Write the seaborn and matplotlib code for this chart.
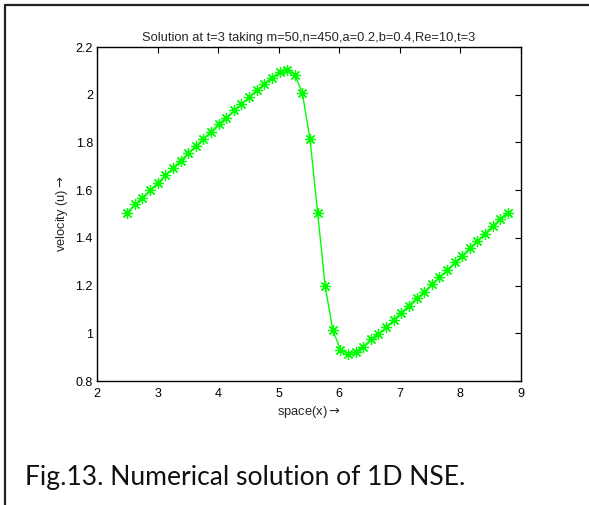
import matplotlib
matplotlib.use("Agg")
import matplotlib.pyplot as plt
import seaborn as sns
import pandas as pd
from matplotlib.lines import Line2D

# ---- data ----
space_x = [2.500, 2.626, 2.751, 2.877, 3.003, 3.128, 3.254, 3.380, 3.505, 3.631,
           3.757, 3.882, 4.008, 4.134, 4.259, 4.385, 4.511, 4.636, 4.762, 4.888,
           5.013, 5.139, 5.265, 5.390, 5.516, 5.642, 5.767, 5.893, 6.019, 6.144,
           6.270, 6.396, 6.521, 6.647, 6.773, 6.898, 7.024, 7.150, 7.275, 7.401,
           7.527, 7.652, 7.778, 7.904, 8.029, 8.155, 8.281, 8.406, 8.532, 8.658,
           8.783]
velocity_u = [1.506, 1.540, 1.569, 1.600, 1.630, 1.662, 1.693, 1.724, 1.754, 1.785,
              1.815, 1.844, 1.876, 1.904, 1.934, 1.960, 1.990, 2.018, 2.046, 2.071,
              2.095, 2.105, 2.084, 2.007, 1.815, 1.506, 1.198, 1.013, 0.932, 0.915,
              0.922, 0.944, 0.974, 0.996, 1.026, 1.055, 1.087, 1.116, 1.146, 1.172,
              1.206, 1.234, 1.264, 1.297, 1.324, 1.358, 1.386, 1.418, 1.450, 1.478,
              1.506]
x_ticks = [2, 3, 4, 5, 6, 7, 8, 9]
y_ticks = [0.8, 1.0, 1.2, 1.4, 1.6, 1.8, 2.0, 2.2]
y_tick_labels = ["0.8", "1", "1.2", "1.4", "1.6", "1.8", "2", "2.2"]
title_text = "Solution at t=3 taking m=50,n=450,a=0.2,b=0.4,Re=10,t=3"
x_label = r"space(x)$\rightarrow$"
y_label = r"velocity (u)$\rightarrow$"
caption = "Fig.13. Numerical solution of 1D NSE."

df = pd.DataFrame({"x": space_x, "u": velocity_u})

sns.set_theme(style="white")
plt.rcParams["font.family"] = ["Liberation Sans", "DejaVu Sans"]
plt.rcParams["mathtext.fontset"] = "dejavusans"
plt.rcParams["xtick.direction"] = "in"
plt.rcParams["ytick.direction"] = "in"

fig = plt.figure(figsize=(5.89, 5.05), dpi=100)
ax = fig.add_axes([97 / 589, 1 - 381 / 505, 424 / 589, 334 / 505])

sns.lineplot(data=df, x="x", y="u", ax=ax, color="#00ff00", linewidth=1.0,
             marker=(8, 2, 0), markersize=8, markeredgecolor="#00ff00",
             markerfacecolor="#00ff00", markeredgewidth=0.9, sort=False)

ax.set_xlim(2, 9)
ax.set_ylim(0.8, 2.2)
ax.set_xticks(x_ticks)
ax.set_xticklabels([str(t) for t in x_ticks])
ax.set_yticks(y_ticks)
ax.set_yticklabels(y_tick_labels)
ax.tick_params(axis="both", which="both", direction="in", length=4, width=0.8,
               top=True, right=True, labelsize=9, colors="black", pad=3)
ax.tick_params(axis="x", pad=5)
for s in ax.spines.values():
    s.set_visible(True)
    s.set_color("black")
    s.set_linewidth(1.0)

ax.set_title(title_text, fontsize=9.3, pad=4)
ax.set_xlabel(x_label, fontsize=9.3, labelpad=3)
ax.set_ylabel(y_label, fontsize=9.3, labelpad=4)

fig.text(25 / 589, 1 - 485 / 505, caption, fontsize=19.1, family=["Lato", "DejaVu Sans"],
         ha="left", va="baseline", color="#111111")

# outer frame (top and left edges visible)
fig.add_artist(Line2D([5 / 589, 1.0], [1 - 5 / 505, 1 - 5 / 505],
                      transform=fig.transFigure, color="#222222", linewidth=1.6))
fig.add_artist(Line2D([5 / 589, 5 / 589], [0.0, 1 - 5 / 505],
                      transform=fig.transFigure, color="#222222", linewidth=1.6))

fig.savefig("out.png", dpi=100)
